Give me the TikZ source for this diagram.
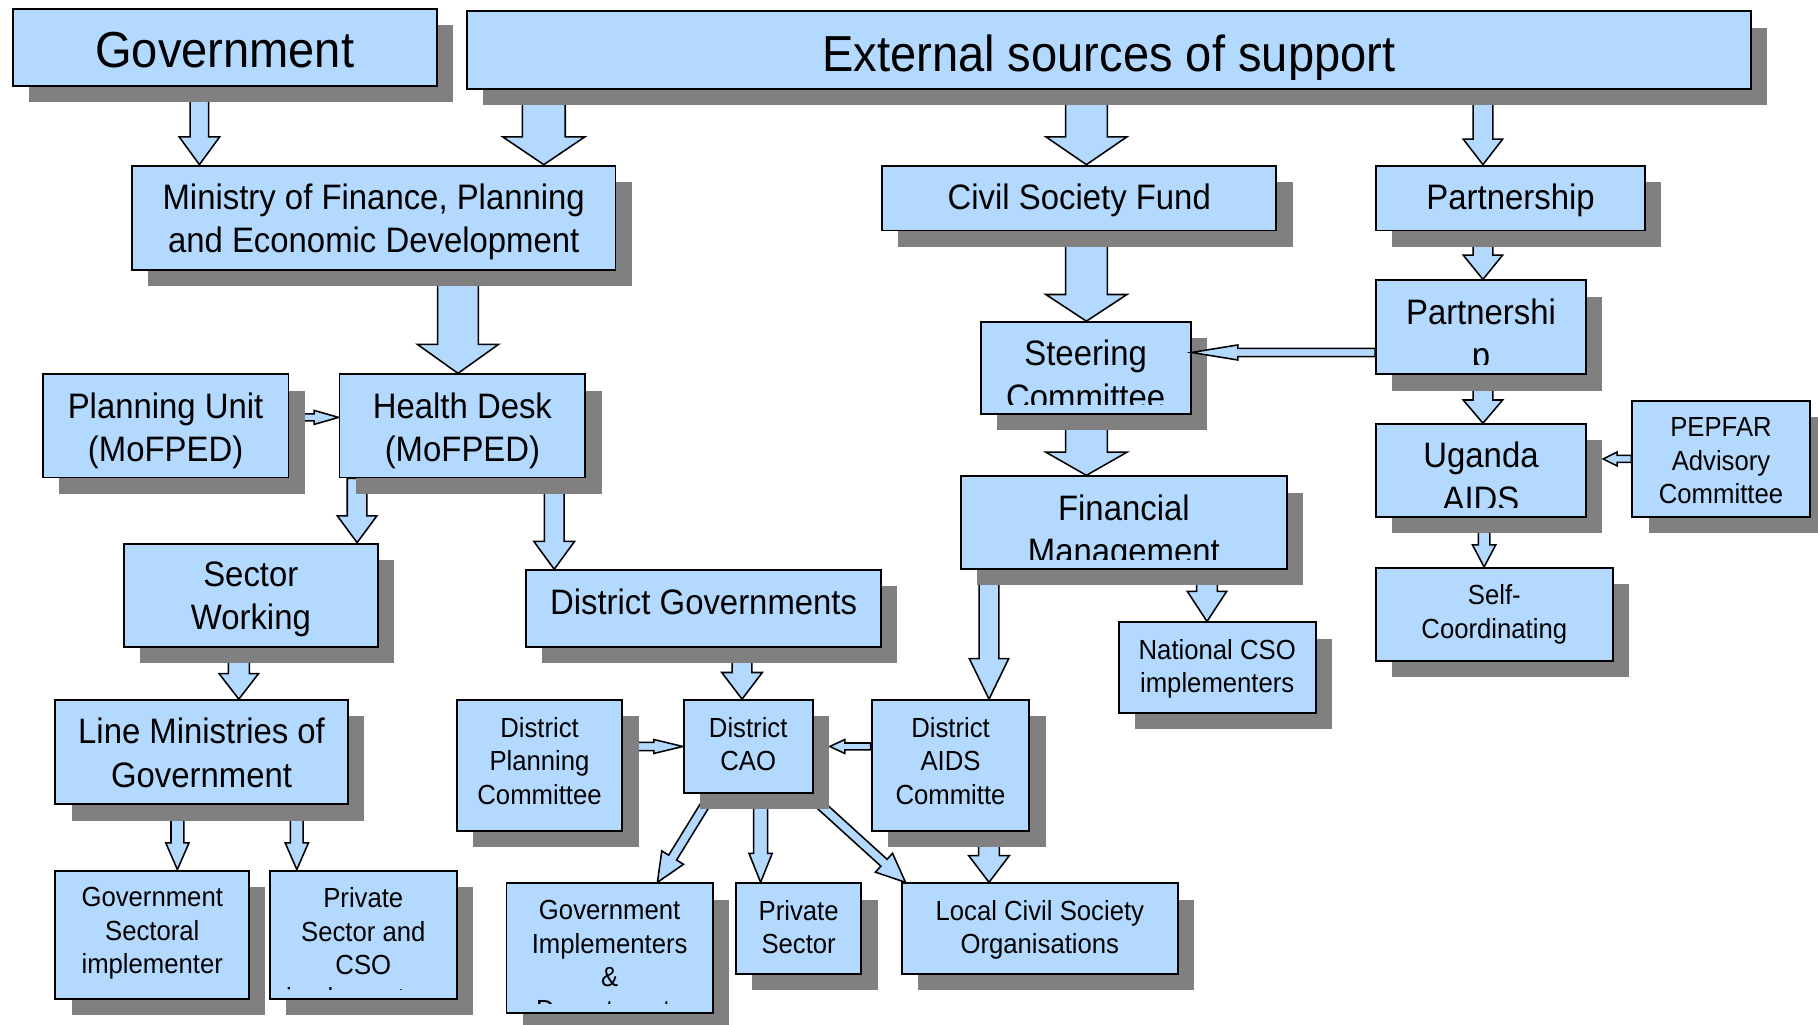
\documentclass[tikz,border=0pt]{standalone}
\usepackage{fontspec}
\setmainfont{Liberation Sans}[FakeStretch=0.93]
\usetikzlibrary{calc,shadows}

\definecolor{boxblue}{RGB}{179,217,255}
\definecolor{shadowgray}{RGB}{128,128,128}

\pgfdeclarelayer{bg}
\pgfsetlayers{bg,main}

\newcommand\fontbig{\fontsize{26.2pt}{32pt}\selectfont}
\newcommand\fontmid{\fontsize{18.3pt}{22.5pt}\selectfont}
\newcommand\fontsmall{\fontsize{14.3pt}{17.3pt}\selectfont}

% text of a box, hung from its top edge and cut off near its bottom edge
\newcommand\boxtext[3]{%
  \begin{scope}
    \clip ([yshift=5.4pt]#1.south west) rectangle (#1.north east);
    \node[#2] at (#1.north) {#3};
  \end{scope}}

% block arrow: start, end, shaft width, head width, head length
\newcommand\flow[5]{%
  \draw[flowarrow] let \p1=(#1), \p2=(#2),
      \n1={atan2(\y2-\y1,\x2-\x1)}, \n2={veclen(\x2-\x1,\y2-\y1)-#5*0.6pt},
      \n3={#3*0.3pt}, \n4={#4*0.3pt} in
    ($(\p1)+(\n1+90:\n3)$) -- ($(\p1)+(\n1:\n2)+(\n1+90:\n3)$)
    -- ($(\p1)+(\n1:\n2)+(\n1+90:\n4)$) -- (\p2)
    -- ($(\p1)+(\n1:\n2)+(\n1-90:\n4)$)
    -- ($(\p1)+(\n1:\n2)+(\n1-90:\n3)$)
    -- ($(\p1)+(\n1-90:\n3)$) -- cycle;}

\tikzset{
  box/.style 2 args={draw=black, line width=1pt, fill=boxblue, anchor=north west,
    inner sep=0pt, minimum width=#1*0.6pt, minimum height=#2*0.6pt,
    drop shadow={shadow xshift=8.4pt, shadow yshift=-8.4pt, fill=shadowgray, opacity=1}},
  bigtext/.style={font=\fontbig, anchor=north, yshift=-12.4pt, inner sep=0pt, align=center},
  midtext/.style={font=\fontmid, anchor=north, yshift=-9.7pt, inner sep=0pt, align=center},
  smalltext/.style={font=\fontsmall, anchor=north, yshift=-9.1pt, inner sep=0pt, align=center},
  flowarrow/.style={draw=black, line width=0.8pt, fill=boxblue, line join=miter}
}

\begin{document}
\begin{tikzpicture}[x=0.6pt, y=-0.6pt]
\clip (0,0) rectangle (1568,884);
\path[use as bounding box] (0,0) rectangle (1568,884);

% top level
\node[box={366}{66}] (gov) at (10,7) {};
\node[box={1107}{67}] (ext) at (402,9) {};
\node[box={417}{90}] (mofped) at (113,142) {};
\node[box={340}{56}] (csf) at (760,142) {};
\node[box={232}{56}] (partner) at (1186,142) {};

% civil society fund side
\node[box={181}{81}] (partner2) at (1186,241) {};
\node[box={181}{79}] (steer) at (845,277) {};
\node[box={281}{80}] (finman) at (828,410) {};
\node[box={181}{80}] (uac) at (1186,365) {};
\node[box={153}{100}] (pepfar) at (1407,345) {};
\node[box={204}{80}] (selfco) at (1186,489) {};
\node[box={170}{78}] (natcso) at (964,536) {};

% ministry side
\node[box={212}{89}] (planunit) at (36,322) {};
\node[box={212}{89}] (health) at (292,322) {};
\node[box={219}{89}] (swg) at (106,468) {};
\node[box={306}{66}] (distgov) at (453,491) {};
\node[box={252}{90}] (linemin) at (47,603) {};
\node[box={167}{111}] (govsect) at (47,750) {};
\node[box={161}{111}] (privcso) at (232,750) {};

% district level
\node[box={143}{113}] (distplan) at (393,603) {};
\node[box={111}{80}] (cao) at (589,603) {};
\node[box={136}{113}] (distaids) at (751,603) {};
\node[box={178}{112}] (govimp) at (436,761) {};
\node[box={108}{78}] (privsec) at (634,761) {};
\node[box={238}{78}] (localcso) at (777,761) {};

\boxtext{gov}{bigtext}{Government}
\boxtext{ext}{bigtext}{External sources of support}
\boxtext{mofped}{midtext}{Ministry of Finance, Planning\\and Economic Development}
\boxtext{csf}{midtext}{Civil Society Fund}
\boxtext{partner}{midtext}{Partnership}
\boxtext{partner2}{midtext}{Partnershi\\p}
\boxtext{steer}{midtext}{Steering\\Committee}
\boxtext{finman}{midtext}{Financial\\Management}
\boxtext{uac}{midtext}{Uganda\\AIDS}
\boxtext{pepfar}{smalltext}{PEPFAR\\Advisory\\Committee}
\boxtext{selfco}{smalltext}{Self-\\Coordinating}
\boxtext{natcso}{smalltext}{National CSO\\implementers}
\boxtext{planunit}{midtext}{Planning Unit\\(MoFPED)}
\boxtext{health}{midtext}{Health Desk\\(MoFPED)}
\boxtext{swg}{midtext}{Sector\\Working}
\boxtext{distgov}{midtext}{District Governments}
\boxtext{linemin}{midtext}{Line Ministries of\\Government}
\boxtext{govsect}{smalltext}{Government\\Sectoral\\implementer}
\boxtext{privcso}{smalltext}{Private\\Sector and\\CSO\\implementers}
\boxtext{distplan}{smalltext}{District\\Planning\\Committee}
\boxtext{cao}{smalltext}{District\\CAO}
\boxtext{distaids}{smalltext}{District\\AIDS\\Committe}
\boxtext{govimp}{smalltext}{Government\\Implementers\\\&\\Departments}
\boxtext{privsec}{smalltext}{Private\\Sector}
\boxtext{localcso}{smalltext}{Local Civil Society\\Organisations}

% arrows run beneath the boxes and their shadows
\begin{pgfonlayer}{bg}
\flow{172,0 |- gov.south}{172,0 |- mofped.north}{16}{35}{24}
\flow{469,0 |- ext.south}{469,0 |- mofped.north}{37}{71}{24}
\flow{937,0 |- ext.south}{937,0 |- csf.north}{36}{70}{24}
\flow{1279,0 |- ext.south}{1279,0 |- partner.north}{17}{34}{22}
\flow{395,0 |- mofped.south}{395,0 |- health.north}{35}{70}{25}
\flow{937,0 |- csf.south}{937,0 |- steer.north}{36}{70}{23}
\flow{1279,0 |- partner.south}{1279,0 |- partner2.north}{17}{34}{21}
\flow{937,0 |- steer.south}{937,0 |- finman.north}{36}{70}{20}
\flow{1279,0 |- partner2.south}{1279,0 |- uac.north}{17}{34}{20}
\flow{1280,0 |- uac.south}{1280,0 |- selfco.north}{10}{20}{19}
\flow{pepfar.west}{$(uac.east |- pepfar.west)+(14,0)$}{6}{12}{12}
\flow{1041,0 |- finman.south}{1041,0 |- natcso.north}{18}{34}{26}
\flow{853,0 |- finman.south}{853,0 |- distaids.north}{17}{34}{35}
\flow{853,0 |- distaids.south}{853,0 |- localcso.north}{18}{35}{23}
\flow{planunit.east |- 0,360}{health.west |- 0,360}{6}{12}{21}
\flow{308,0 |- health.south}{308,0 |- swg.north}{17}{34}{23}
\flow{478,0 |- health.south}{478,0 |- distgov.north}{17}{35}{24}
\flow{206,0 |- swg.south}{206,0 |- linemin.north}{18}{34}{22}
\flow{153,0 |- linemin.south}{153,0 |- govsect.north}{11}{20}{23}
\flow{256,0 |- linemin.south}{256,0 |- privcso.north}{11}{20}{23}
\flow{640,0 |- distgov.south}{640,0 |- cao.north}{17}{35}{23}
\flow{distplan.east |- cao.west}{cao.west}{7}{12}{25}
\flow{distaids.west |- cao.west}{$(cao.east)+(14,0)$}{6}{12}{13}
\flow{614,0 |- cao.south}{567,0 |- govimp.north}{8}{22}{25}
\flow{656,0 |- cao.south}{656,0 |- privsec.north}{12}{20}{25}
\flow{697,0 |- cao.south}{781,0 |- localcso.north}{8}{22}{25}
\end{pgfonlayer}

% this one crosses the shadow of the steering committee
\flow{partner2.west |- 0,304}{steer.east |- 0,304}{7}{13}{40}
\end{tikzpicture}
\end{document}
